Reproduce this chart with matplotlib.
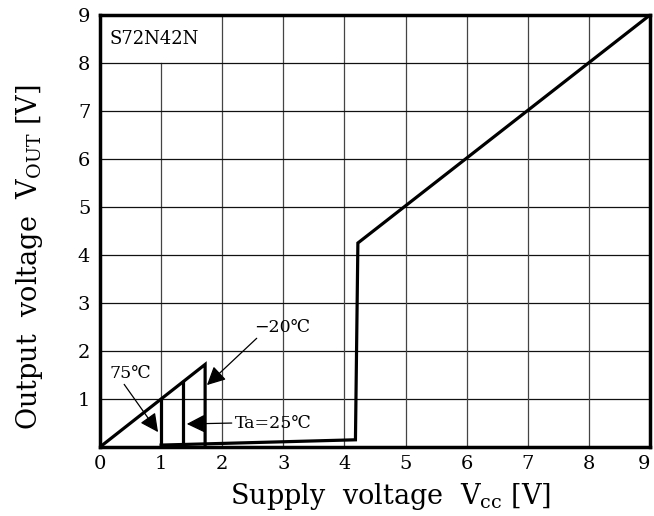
import matplotlib.pyplot as plt

plt.rcParams['font.family'] = ['DejaVu Serif', 'DejaVu Sans']
plt.rcParams['mathtext.fontset'] = 'dejavuserif'
plt.rcParams['mathtext.default'] = 'regular'

# curve data
rise_x = [0, 1.72, 1.72]
rise_y = [0, 1.72, 0.05]
drop75_x = [1.0, 1.0]
drop75_y = [1.0, 0.04]
drop25_x = [1.35, 1.35]
drop25_y = [1.35, 0.05]
out_x = [1.0, 4.18, 4.22, 9.0]
out_y = [0.04, 0.15, 4.25, 9.0]

ticks = [0, 1, 2, 3, 4, 5, 6, 7, 8, 9]

fig = plt.figure(figsize=(6.54, 5.16), dpi=100)
ax = fig.add_axes([100 / 654, 1 - 447 / 516, 550 / 654, 432 / 516])
ax.set_xlim(0, 9)
ax.set_ylim(0, 9)

# grid, leaving a box for the part name
for t in ticks[1:-1]:
    top = 8 if t == 1 else 9
    ax.plot([t, t], [0, top], color='#444444', lw=0.9, zorder=1)
    ax.plot([0, 9], [t, t], color='#111111', lw=0.9, zorder=1)

ax.plot(rise_x, rise_y, color='black', lw=2.3, solid_joinstyle='miter', zorder=3)
ax.plot(drop75_x, drop75_y, color='black', lw=2.3, zorder=3)
ax.plot(drop25_x, drop25_y, color='black', lw=2.3, zorder=3)
ax.plot(out_x, out_y, color='black', lw=2.3, solid_joinstyle='miter', zorder=3)

for s in ax.spines.values():
    s.set_linewidth(2.5)
ax.set_xticks(ticks)
ax.set_yticks(ticks[1:])
ax.tick_params(length=0, labelsize=14)
ax.tick_params(axis='x', pad=6)
ax.tick_params(axis='y', pad=7)
ax.set_xticklabels([str(t) for t in ticks])
ax.get_xticklabels()[-1].set_horizontalalignment('right')

ax.text(0.16, 8.5, 'S72N42N', fontsize=13, va='center', ha='left')

arrow = dict(arrowstyle='-|>', mutation_scale=28, color='black', lw=0.9,
             shrinkA=0, shrinkB=0)
ax.annotate('−20℃', xy=(1.75, 1.29), xytext=(2.98, 2.5), fontsize=12.5,
            ha='center', va='center', arrowprops=dict(arrow, relpos=(0.1, 0.0)))
ax.annotate('75℃', xy=(0.95, 0.31), xytext=(0.5, 1.54), fontsize=12.5,
            ha='center', va='center', arrowprops=dict(arrow, relpos=(0.3, 0.0)))
ax.annotate('Ta=25℃', xy=(1.42, 0.48), xytext=(2.83, 0.5), fontsize=12.5,
            ha='center', va='center', arrowprops=dict(arrow, relpos=(0.0, 0.5)))

fig.text(390 / 654, 1 - 497 / 516, r'Supply  voltage  V$_{cc}$ [V]', fontsize=19.5,
         ha='center', va='center')
fig.text(30 / 654, 1 - 257 / 516, r'Output  voltage  V$_{OUT}$ [V]', fontsize=19.5,
         ha='center', va='center', rotation=90)

fig.savefig('out.png', dpi=100)
